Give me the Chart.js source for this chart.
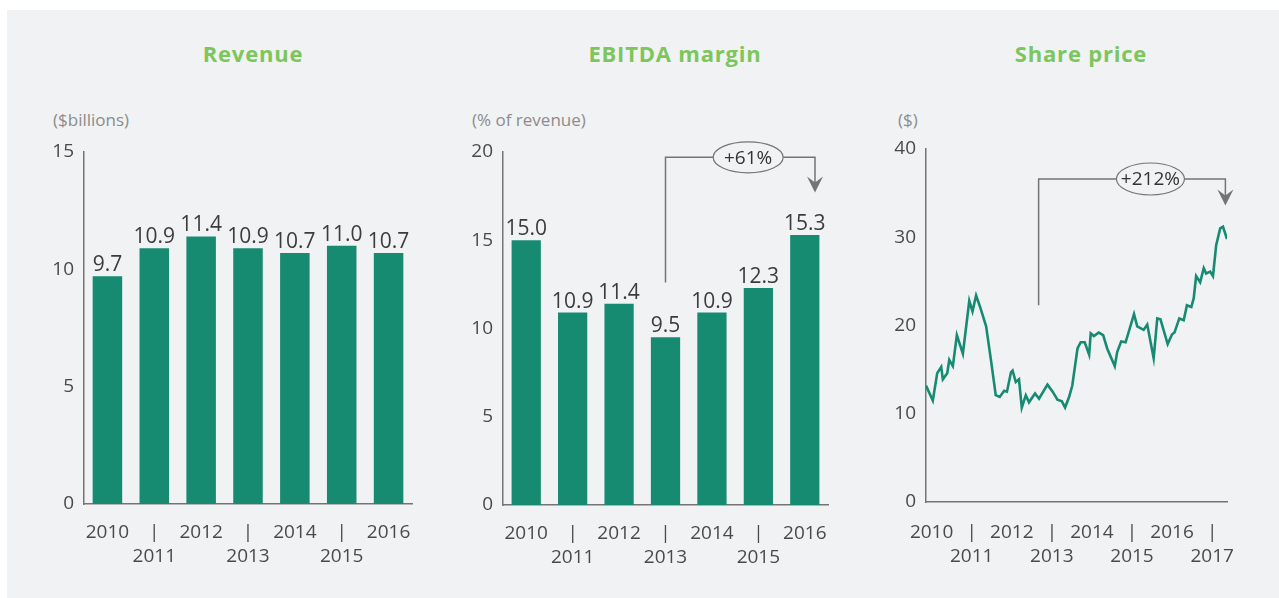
<!DOCTYPE html>
<html><head><meta charset="utf-8">
<script src="https://cdn.jsdelivr.net/npm/chart.js@4.4.0/dist/chart.umd.min.js"></script>
<style>
html,body{margin:0;padding:0;background:#fff;width:1279px;height:598px;overflow:hidden;font-family:'Open Sans',sans-serif;}
#panel{position:absolute;left:7px;top:10px;right:0;bottom:0;background:#f1f2f4;}
canvas{position:absolute;left:0;top:0;}
.title{position:absolute;top:38px;font-weight:700;font-size:22px;letter-spacing:0.8px;color:#7cc65c;transform:translateX(-50%);white-space:nowrap;line-height:30px;}
.unit{position:absolute;top:107px;font-size:17px;color:#8c8c8c;line-height:26px;white-space:nowrap;}
</style></head>
<body>
<div id="panel"></div>
<div class="title" style="left:253px">Revenue</div>
<div class="title" style="left:675px">EBITDA margin</div>
<div class="title" style="left:1081px">Share price</div>
<div class="unit" style="left:53px">($billions)</div>
<div class="unit" style="left:472px">(% of revenue)</div>
<div class="unit" style="left:898px">($)</div>
<canvas id="c1" width="1279" height="598"></canvas>
<canvas id="c2" width="1279" height="598"></canvas>
<canvas id="c3" width="1279" height="598"></canvas>
<script>
// ---- data ----
const years = ['2010','2011','2012','2013','2014','2015','2016'];
const revenue = [9.7, 10.9, 11.4, 10.9, 10.7, 11.0, 10.7];
const ebitdaMargin = [15.0, 10.9, 11.4, 9.5, 10.9, 12.3, 15.3];
const shareYears = [2010, 2011, 2012, 2013, 2014, 2015, 2016, 2017];
const shareDates = [2009.86, 2010.03, 2010.14, 2010.24, 2010.28, 2010.39, 2010.44, 2010.53, 2010.63, 2010.78,
  2010.94, 2011.02, 2011.11, 2011.21, 2011.36, 2011.48, 2011.60, 2011.70, 2011.81, 2011.88,
  2011.98, 2012.02, 2012.10, 2012.18, 2012.25, 2012.35, 2012.43, 2012.58, 2012.68, 2012.89,
  2013.02, 2013.14, 2013.25, 2013.33, 2013.43, 2013.51, 2013.64, 2013.72, 2013.82, 2013.93,
  2013.97, 2014.05, 2014.17, 2014.28, 2014.38, 2014.57, 2014.63, 2014.73, 2014.84, 2015.05,
  2015.13, 2015.29, 2015.38, 2015.54, 2015.63, 2015.71, 2015.89, 2016.00, 2016.06, 2016.18,
  2016.29, 2016.37, 2016.48, 2016.54, 2016.60, 2016.70, 2016.79, 2016.85, 2016.95, 2017.02,
  2017.10, 2017.20, 2017.27, 2017.37];
const sharePrice = [13.2, 11.5, 14.6, 15.3, 13.9, 14.6, 16.1, 15.4, 18.9, 16.8,
  22.8, 21.6, 23.4, 22.1, 19.9, 16.1, 12.1, 11.9, 12.6, 12.5,
  14.7, 14.9, 13.6, 13.9, 10.7, 12.1, 11.3, 12.3, 11.7, 13.3,
  12.5, 11.6, 11.4, 10.7, 11.9, 13.2, 17.4, 18.1, 18.1, 16.7,
  19.1, 18.8, 19.2, 18.9, 17.4, 15.4, 17.0, 18.2, 18.1, 21.3,
  19.9, 19.5, 20.1, 16.3, 20.8, 20.7, 17.9, 19.0, 19.2, 20.8,
  20.6, 22.3, 22.1, 23.1, 25.6, 24.9, 26.5, 25.9, 26.1, 25.6,
  29.1, 31.0, 31.2, 29.8];
const ebitdaCallout = {text:'+61%', fromX:3, fromY:12.6, toX:6.22, topY:19.7, tipY:17.7, ovalX:4.78, rx:35, ry:15.5};
const shareCallout = {text:'+212%', fromX:2012.67, fromY:22.3, toX:2017.33, topY:36.6, tipY:33.6, ovalX:2015.46, rx:34, ry:16};

// ---- styling ----
const GREEN = '#178b71';
const AXIS = '#747474';
const TICK = '#4a4a4a';
const BG = '#f1f2f4';
Chart.defaults.font.family = "'Open Sans', sans-serif";
Chart.defaults.color = TICK;
const Y_W = 40, X_H = 80;

const barLabels = {
  id: 'barLabels',
  afterDatasetsDraw(chart) {
    const meta = chart.getDatasetMeta(0);
    if (meta.type !== 'bar') return;
    const ctx = chart.ctx;
    ctx.save();
    ctx.font = "21px 'Open Sans', sans-serif";
    ctx.fillStyle = '#3c3c3c';
    ctx.textAlign = 'center';
    ctx.textBaseline = 'alphabetic';
    meta.data.forEach((el, i) => {
      ctx.fillText(chart.data.datasets[0].data[i].toFixed(1), el.x, el.y - 5);
    });
    ctx.restore();
  }
};

const bracket = {
  id: 'bracket',
  afterDatasetsDraw(chart, args, o) {
    if (!o || !o.text) return;
    const xs = chart.scales.x, ys = chart.scales.y, ctx = chart.ctx;
    const x0 = xs.getPixelForValue(o.fromX), y0 = ys.getPixelForValue(o.fromY);
    const x1 = xs.getPixelForValue(o.toX), yt = ys.getPixelForValue(o.topY);
    const ytip = ys.getPixelForValue(o.tipY), xo = xs.getPixelForValue(o.ovalX);
    ctx.save();
    ctx.strokeStyle = AXIS; ctx.lineWidth = 1.5;
    ctx.beginPath(); ctx.moveTo(x0, y0); ctx.lineTo(x0, yt); ctx.lineTo(x1, yt); ctx.lineTo(x1, ytip - 8); ctx.stroke();
    ctx.fillStyle = AXIS;
    ctx.beginPath(); ctx.moveTo(x1, ytip); ctx.lineTo(x1 - 8, ytip - 16); ctx.lineTo(x1, ytip - 10); ctx.lineTo(x1 + 8, ytip - 16); ctx.closePath(); ctx.fill();
    ctx.beginPath(); ctx.ellipse(xo, yt, o.rx, o.ry, 0, 0, Math.PI * 2);
    ctx.fillStyle = BG; ctx.fill(); ctx.lineWidth = 1.2; ctx.stroke();
    ctx.fillStyle = '#333'; ctx.font = "19px 'Open Sans', sans-serif";
    ctx.textAlign = 'center'; ctx.textBaseline = 'middle';
    ctx.fillText(o.text, xo, yt + 1);
    ctx.restore();
  }
};

function padFor(a) {
  return {left: a.l - Y_W, right: 1279 - a.r, top: a.t, bottom: 598 - a.b - X_H};
}
const tickFont = {size: 19};
function yAxis(max, step) {
  return {
    min: 0, max: max,
    ticks: {stepSize: step, padding: 10, font: tickFont, color: TICK},
    grid: {display: false, drawTicks: false},
    border: {display: true, color: AXIS, width: 1.5},
    afterFit(s) { s.width = Y_W; }
  };
}
function xTicksCb(label, index) { return index % 2 ? ['|', label] : label; }

function barChart(id, data, max, step, area, callout) {
  return new Chart(document.getElementById(id), {
    type: 'bar',
    data: {labels: years, datasets: [{data: data, backgroundColor: GREEN, barPercentage: 0.63, categoryPercentage: 1}]},
    options: {
      responsive: false, animation: false, events: [],
      layout: {padding: padFor(area)},
      plugins: {legend: {display: false}, tooltip: {enabled: false}, bracket: callout || {}},
      scales: {
        x: {
          ticks: {padding: 17, font: {size: 19, lineHeight: 1.25}, color: TICK, maxRotation: 0, autoSkip: false,
            callback(v, i) { return xTicksCb(this.getLabelForValue(v), i); }},
          grid: {display: false, drawTicks: false},
          border: {display: true, color: AXIS, width: 1.5},
          afterFit(s) { s.height = X_H; }
        },
        y: yAxis(max, step)
      }
    },
    plugins: [barLabels, bracket]
  });
}

barChart('c1', revenue, 15, 5, {l: 84, r: 412, t: 152, b: 504}, null);
barChart('c2', ebitdaMargin, 20, 5, {l: 503, r: 828, t: 152, b: 505}, ebitdaCallout);

new Chart(document.getElementById('c3'), {
  type: 'line',
  data: {datasets: [{data: shareDates.map((d, i) => ({x: d, y: sharePrice[i]})), borderColor: GREEN, borderWidth: 2.6, pointRadius: 0, tension: 0, fill: false}]},
  options: {
    responsive: false, animation: false, events: [],
    layout: {padding: padFor({l: 926, r: 1227, t: 149, b: 502})},
    plugins: {legend: {display: false}, tooltip: {enabled: false}, bracket: shareCallout},
    scales: {
      x: {
        type: 'linear', min: shareDates[0], max: shareDates[shareDates.length - 1],
        afterBuildTicks(s) { s.ticks = shareYears.map(v => ({value: v})); },
        ticks: {padding: 19, font: {size: 19, lineHeight: 1.25}, color: TICK, maxRotation: 0, autoSkip: false,
          callback(v, i) { return xTicksCb(String(v), i); }},
        grid: {display: false, drawTicks: false},
        border: {display: true, color: AXIS, width: 1.5},
        afterFit(s) { s.height = X_H; }
      },
      y: yAxis(40, 10)
    }
  },
  plugins: [bracket]
});
</script>
</body></html>
